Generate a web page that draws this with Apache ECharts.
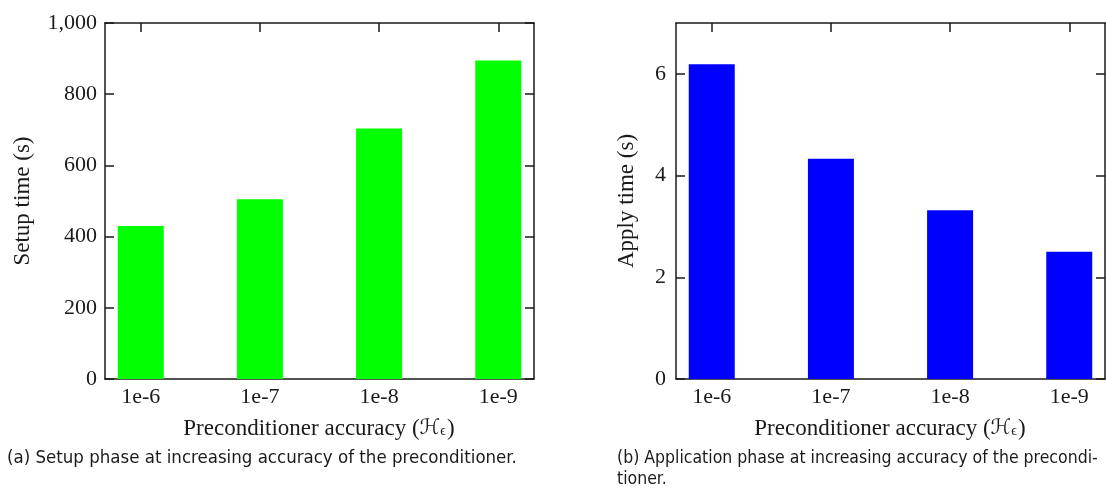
<!DOCTYPE html>
<html>
<head>
<meta charset="utf-8">
<script src="https://cdn.jsdelivr.net/npm/echarts@6/dist/echarts.min.js"></script>
<style>
  html, body { margin: 0; padding: 0; background: #fff; }
  #chart { width: 1106px; height: 492px; }
</style>
</head>
<body>
<div id="chart"></div>
<script>
// Preconditioner accuracy levels (shared by both panels)
const categories = ['1e-6', '1e-7', '1e-8', '1e-9'];
// Setup phase time in seconds
const setupTimes = [430, 505, 704, 895];
// Application phase time in seconds
const applyTimes = [6.19, 4.33, 3.32, 2.50];
// Tick values for the two value axes
const setupTicks = [0, 200, 400, 600, 800, 1000];
const applyTicks = [0, 2, 4, 6];

const positions = categories.map((_, i) => i);
const serif = '"Liberation Serif", "DejaVu Serif", serif';
const ink = '#1a1a1a';
const lineStyle = { color: ink, width: 1.5 };

function xAxes(gridIndex) {
  const base = {
    type: 'value', gridIndex, min: -0.3, max: 3.3,
    splitLine: { show: false },
    axisLine: { show: true, onZero: false, lineStyle },
    axisTick: { show: true, inside: true, length: 9, lineStyle, customValues: positions }
  };
  return [
    Object.assign({}, base, {
      position: 'bottom',
      axisLabel: {
        customValues: positions, margin: 7,
        formatter: v => categories[Math.round(v)],
        fontFamily: serif, fontSize: 22, color: ink
      }
    }),
    Object.assign({}, base, { position: 'top', axisLabel: { show: false } })
  ];
}

function yAxes(gridIndex, max, ticks, name, gap, margin, fmt) {
  const base = {
    type: 'value', gridIndex, min: 0, max,
    splitLine: { show: false },
    axisLine: { show: true, onZero: false, lineStyle },
    axisTick: { show: true, inside: true, length: 9, lineStyle, customValues: ticks }
  };
  return [
    Object.assign({}, base, {
      position: 'left',
      name, nameLocation: 'middle', nameGap: gap,
      nameTextStyle: { fontFamily: serif, fontSize: 23, color: ink },
      axisLabel: {
        customValues: ticks, margin, formatter: fmt,
        fontFamily: serif, fontSize: 22, color: ink
      }
    }),
    Object.assign({}, base, { position: 'right', axisLabel: { show: false } })
  ];
}

// Axis title with a calligraphic H and a subscript epsilon
const accTitle = (left) => ({
  left, top: 415, textAlign: 'center', padding: 0,
  text: '{t|Preconditioner accuracy (}{h|ℋ}{s|ϵ}{t|)}',
  textStyle: {
    fontWeight: 'normal',
    rich: {
      t: { fontFamily: serif, fontSize: 23, fontWeight: 'normal', color: ink, height: 27, verticalAlign: 'bottom' },
      h: { fontFamily: '"DejaVu Sans", serif', fontSize: 21, fontWeight: 'normal', fontStyle: 'italic', color: ink, height: 27, verticalAlign: 'bottom' },
      s: { fontFamily: serif, fontSize: 14, fontWeight: 'normal', color: ink, height: 22, verticalAlign: 'bottom', padding: [0, 1, 0, 0] }
    }
  }
});

const captionFont = '"DejaVu Sans Condensed", Lato, sans-serif';
const captionStyle = (size) => ({ fontFamily: captionFont, fontSize: size, fontWeight: 'normal', color: ink, lineHeight: 21 });

const option = {
  animation: false,
  backgroundColor: '#fff',
  title: [
    accTitle(319),
    accTitle(890),
    { left: 7, top: 448, padding: 0, text: '(a) Setup phase at increasing accuracy of the preconditioner.', textStyle: captionStyle(18.5) },
    { left: 617, top: 448, padding: 0, text: '(b) Application phase at increasing accuracy of the precondi-\ntioner.', textStyle: captionStyle(17.5) }
  ],
  grid: [
    { left: 105, top: 23, width: 429, height: 356 },
    { left: 676, top: 23, width: 429, height: 356 }
  ],
  xAxis: [...xAxes(0), ...xAxes(1)],
  yAxis: [
    ...yAxes(0, 1000, setupTicks, 'Setup time (s)', 71, 8, v => v.toLocaleString('en-US')),
    ...yAxes(1, 7, applyTicks, 'Apply time (s)', 38, 10, v => String(v))
  ],
  series: [
    {
      type: 'bar', xAxisIndex: 0, yAxisIndex: 0, barWidth: 46,
      itemStyle: { color: '#00ff00' },
      data: setupTimes.map((v, i) => [positions[i], v])
    },
    {
      type: 'bar', xAxisIndex: 2, yAxisIndex: 2, barWidth: 46,
      itemStyle: { color: '#0000ff' },
      data: applyTimes.map((v, i) => [positions[i], v])
    }
  ]
};

const chart = echarts.init(document.getElementById('chart'), null, { renderer: 'canvas' });
chart.setOption(option);
</script>
</body>
</html>
